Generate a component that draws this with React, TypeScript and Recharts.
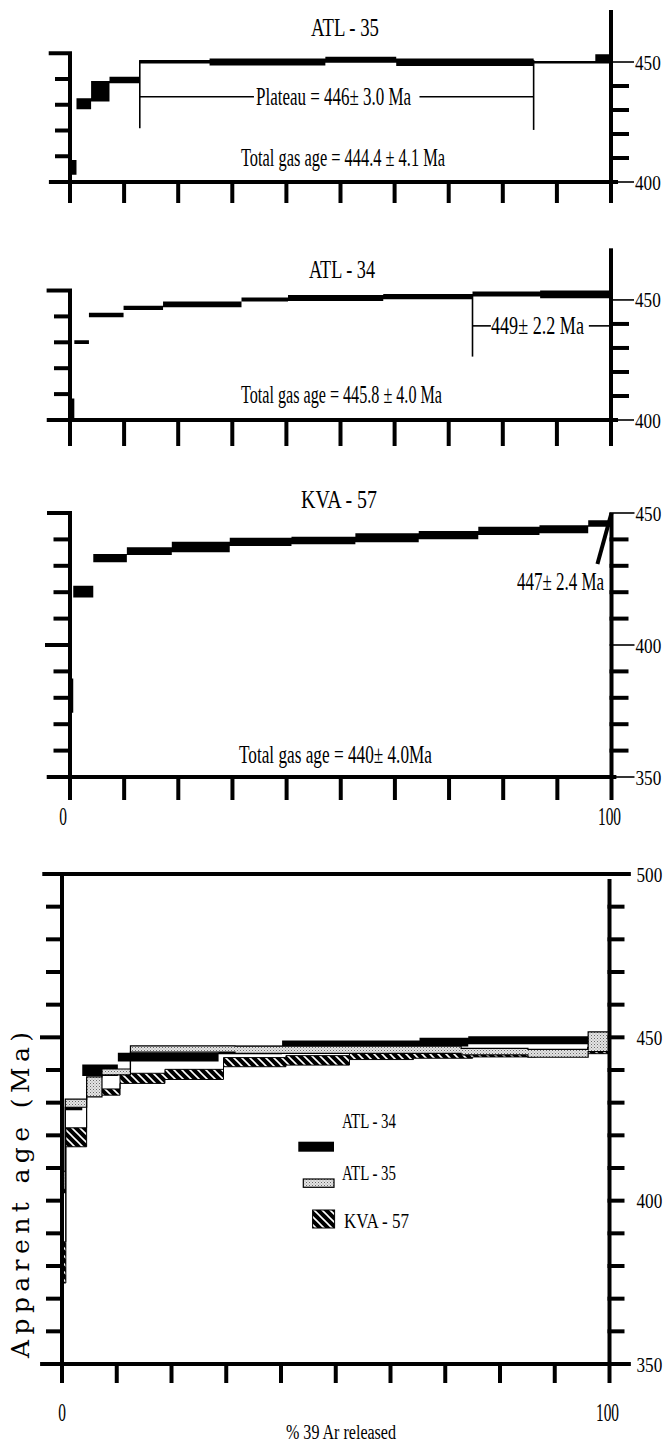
import React from 'react';
import { ComposedChart, Area, XAxis, YAxis, ReferenceLine } from 'recharts';

const SERIF = '"Liberation Serif", "Times New Roman", serif';
const WIDE_SERIF = '"DejaVu Serif", serif';

// ---------- data (age spectra: cumulative % 39Ar edges, step age low / high in Ma) ----------
const xTicks = [0, 10, 20, 30, 40, 50, 60, 70, 80, 90, 100];
const xTickLabels = [0, 100];

// ATL-35 panel
const atl35Edges = [0, 1.2, 3.9, 7.3, 12.9, 25.8, 47.2, 60.3, 85.7, 97.1, 100];
const atl35Low = [403.0, 430.3, 433.5, 441.1, 449.4, 448.5, 449.7, 448.3, 449.4, 449.4];
const atl35High = [409.2, 434.9, 442.1, 443.9, 450.8, 451.5, 452.2, 451.5, 450.4, 453.2];

// ATL-34 panel
const atl34Edges = [0, 0.8, 3.5, 9.9, 17.2, 31.7, 40.3, 57.9, 74.4, 86.9, 100];
const atl34Low = [400.7, 431.7, 442.8, 445.8, 447.0, 449.3, 449.6, 450.3, 451.4, 450.7];
const atl34High = [409.0, 433.2, 444.7, 447.6, 449.3, 451.0, 452.1, 452.5, 453.5, 453.9];

// KVA-57 panel
const kva57Edges = [0, 0.6, 4.3, 10.5, 18.8, 29.5, 40.9, 52.7, 64.4, 75.4, 86.7, 95.7, 100];
const kva57Low = [374.3, 418.0, 431.3, 434.1, 435.1, 437.5, 438.2, 438.9, 440.1, 441.7, 442.3, 444.8];
const kva57High = [387.3, 422.4, 434.5, 437.0, 439.1, 440.6, 441.0, 442.3, 443.2, 444.8, 445.4, 447.3];

// combined panel (as drawn in the lower diagram)
const cAtl34Edges = [0, 0.7, 3.7, 10.2, 28.6, 40.2, 65.3, 74.2, 100];
const cAtl34Low = [402.3, 427.7, 438.2, 442.6, 444.8, 447.1, 447.2, 447.9];
const cAtl34High = [408.5, 430.8, 441.7, 445.3, 447.4, 449.0, 449.9, 450.3];

const cAtl35Edges = [0, 0.6, 4.5, 7.3, 12.5, 31.6, 72.9, 85.1, 96.1, 100];
const cAtl35Low = [403.5, 428.6, 431.8, 438.5, 445.5, 445.1, 444.6, 443.9, 445.6];
const cAtl35High = [409.0, 431.1, 437.9, 440.3, 447.4, 447.3, 446.6, 446.3, 451.7];

const cKva57Edges = [0, 0.7, 4.5, 10.6, 18.8, 29.5, 40.9, 52.5, 64.2, 75.0, 86.6, 96.0, 100];
const cKva57Low = [374.8, 416.5, 432.3, 435.9, 437.1, 441.0, 441.5, 443.2, 443.6, 444.0, 444.2, 445.0];
const cKva57High = [387.4, 422.3, 434.2, 439.0, 440.2, 443.8, 444.4, 445.1, 445.6, 445.6, 446.0, 447.0];

// texts
const sampleTitles = ['ATL - 35', 'ATL - 34', 'KVA - 57'];
const plateauLabels = ['Plateau = 446± 3.0 Ma', '449± 2.2 Ma', '447± 2.4 Ma'];
const totalGasLabels = [
  'Total gas age = 444.4 ± 4.1 Ma',
  'Total gas age = 445.8 ± 4.0 Ma',
  'Total gas age = 440± 4.0Ma',
];
const legendNames = ['ATL - 34', 'ATL - 35', 'KVA - 57'];
const xAxisTitle = '% 39 Ar released';
const yAxisTitle = 'Apparent age (Ma)';

// tick value lists
const rTicks400 = [400, 410, 420, 430, 440, 450];
const rLabels400 = [400, 450];
const rTicks350 = [350, 360, 370, 380, 390, 400, 410, 420, 430, 440, 450];
const rLabels350 = [350, 400, 450];
const rTicks500 = [350, 360, 370, 380, 390, 400, 410, 420, 430, 440, 450, 460, 470, 480, 490, 500];
const rLabels500 = [350, 400, 450, 500];
const lTicksIdx = [0, 1, 2, 3, 4, 5];

// ---------- table builders ----------
type Series = { key: string; edges: number[]; low: number[]; high: number[] };

function buildTable(series: Series[]) {
  const xs = Array.from(new Set(series.flatMap((s) => s.edges))).sort((a, b) => a - b);
  return xs.map((x) => {
    const row: any = { x };
    series.forEach((s) => {
      const i = s.edges.indexOf(x);
      if (i >= 0) {
        const k = Math.min(i, s.low.length - 1);
        row[s.key] = [s.low[k], s.high[k]];
      } else {
        row[s.key] = [null, null];
      }
    });
    return row;
  });
}

const table1 = buildTable([{ key: 'atl35', edges: atl35Edges, low: atl35Low, high: atl35High }]);
const table2 = buildTable([{ key: 'atl34', edges: atl34Edges, low: atl34Low, high: atl34High }]);
const table3 = buildTable([{ key: 'kva57', edges: kva57Edges, low: kva57Low, high: kva57High }]);
const table4 = buildTable([
  { key: 'kva57', edges: cKva57Edges, low: cKva57Low, high: cKva57High },
  { key: 'atl34', edges: cAtl34Edges, low: cAtl34Low, high: cAtl34High },
  { key: 'atl35', edges: cAtl35Edges, low: cAtl35Low, high: cAtl35High },
]);

// ---------- custom ticks ----------
const makeXTick = (len: number, labelDy: number, zeroDx: number) => (p: any) => {
  const v = p.payload.value;
  const show = labelDy > 0 && xTickLabels.includes(v);
  const s = String(v);
  return (
    <g>
      <line x1={p.x} x2={p.x} y1={p.y - 2} y2={p.y + len} stroke="#000" strokeWidth={4} />
      {show && (
        <text
          x={p.x + (v === 0 ? zeroDx : -2)}
          y={p.y + labelDy}
          textAnchor="middle"
          fontFamily={SERIF}
          fontSize={25}
          textLength={s.length * 7.7}
          lengthAdjust="spacingAndGlyphs"
          fill="#000"
        >
          {s}
        </text>
      )}
    </g>
  );
};

const makeRTick = (labels: number[], thinLabeled: boolean, shortLen: number, labelDx: number) => (p: any) => {
  const v = p.payload.value;
  const lab = labels.includes(v);
  const thin = lab && thinLabeled;
  return (
    <g>
      <line
        x1={p.x - 2}
        x2={p.x + (thin ? labelDx - 1 : shortLen)}
        y1={p.y}
        y2={p.y}
        stroke="#000"
        strokeWidth={thin ? 1.6 : 4}
      />
      {lab && (
        <text
          transform={`translate(${p.x + labelDx}, ${p.y + 7.5}) scale(0.78, 1)`}
          x={0}
          y={0}
          fontFamily={SERIF}
          fontSize={22}
          fill="#000"
        >
          {v}
        </text>
      )}
    </g>
  );
};

const makeLTick = (normLen: number, longTicks: Record<number, number>) => (p: any) => {
  const v = p.payload.value;
  const len = longTicks[v] ?? normLen;
  return <line x1={p.x - len} x2={p.x + 2} y1={p.y} y2={p.y} stroke="#000" strokeWidth={4} />;
};

// ---------- panel ----------
type Seg = { a: [number, number]; b: [number, number]; w: number; axis?: string };
type SeriesStyle = { key: string; fill: string; stroke: string; strokeWidth: number };

type PanelProps = {
  top: number;
  height: number;
  plot: { left: number; right: number; top: number; bottom: number }; // page pixels of plot box
  data: any[];
  series: SeriesStyle[];
  rDomain: [number, number];
  rTicks: number[];
  rLabels: number[];
  rThin: boolean;
  rShort: number;
  rLabelDx: number;
  lDomain: [number, number];
  lTicks: number[];
  lNorm: number;
  lLong: Record<number, number>;
  xLen: number;
  xLabelDy: number;
  zeroDx: number;
  segs: Seg[];
};

function Panel(p: PanelProps) {
  // each axis occupies 1px so that recharts draws it
  const margin = {
    top: p.plot.top - p.top,
    bottom: p.top + p.height - p.plot.bottom - 1,
    left: p.plot.left - 1,
    right: 664 - p.plot.right - 1,
  };
  return (
    <div style={{ position: 'absolute', left: 0, top: p.top }}>
      <ComposedChart width={664} height={p.height} margin={margin} data={p.data}>
        <XAxis
          type="number"
          dataKey="x"
          domain={[0, 100]}
          ticks={xTicks}
          interval={0}
          height={1}
          tickSize={0}
          tickMargin={0}
          axisLine={false}
          tickLine={false}
          allowDataOverflow
          tick={makeXTick(p.xLen, p.xLabelDy, p.zeroDx)}
        />
        <YAxis
          yAxisId="r"
          orientation="right"
          type="number"
          domain={p.rDomain}
          ticks={p.rTicks}
          interval={0}
          width={1}
          tickSize={0}
          tickMargin={0}
          axisLine={false}
          tickLine={false}
          allowDataOverflow
          tick={makeRTick(p.rLabels, p.rThin, p.rShort, p.rLabelDx)}
        />
        <YAxis
          yAxisId="l"
          orientation="left"
          type="number"
          domain={p.lDomain}
          ticks={p.lTicks}
          interval={0}
          width={1}
          tickSize={0}
          tickMargin={0}
          axisLine={false}
          tickLine={false}
          allowDataOverflow
          tick={makeLTick(p.lNorm, p.lLong)}
        />
        {p.series.map((s) => (
          <Area
            key={s.key}
            yAxisId="r"
            type="stepAfter"
            dataKey={s.key}
            fill={s.fill}
            fillOpacity={1}
            stroke={s.stroke}
            strokeWidth={s.strokeWidth}
            connectNulls
            dot={false}
            activeDot={false}
            isAnimationActive={false}
          />
        ))}
        {p.segs.map((s, i) => (
          <ReferenceLine
            key={i}
            yAxisId={s.axis ?? 'r'}
            segment={[
              { x: s.a[0], y: s.a[1] },
              { x: s.b[0], y: s.b[1] },
            ]}
            stroke="#000"
            strokeWidth={s.w}
            ifOverflow="visible"
          />
        ))}
      </ComposedChart>
    </div>
  );
}

function CT(props: {
  x: number;
  y: number;
  w: number;
  size?: number;
  family?: string;
  anchor?: 'start' | 'middle' | 'end';
  children: React.ReactNode;
}) {
  return (
    <text
      x={props.x}
      y={props.y}
      fontFamily={props.family ?? SERIF}
      fontSize={props.size ?? 25}
      textAnchor={props.anchor ?? 'start'}
      textLength={props.w}
      lengthAdjust="spacingAndGlyphs"
      fill="#000"
    >
      {props.children}
    </text>
  );
}

export default function App() {
  return (
    <div
      style={{
        position: 'absolute',
        left: 0,
        top: 0,
        width: 664,
        height: 1446,
        background: '#fff',
        overflow: 'hidden',
      }}
    >
      {/* fill patterns (referenced by the charts) */}
      <svg width={0} height={0} style={{ position: 'absolute' }}>
        <defs>
          <pattern id="kvaHatch" patternUnits="userSpaceOnUse" width="8" height="8">
            <rect width="8" height="8" fill="#000" />
            <path d="M0,0 L8,8 M-2,6 L2,10 M6,-2 L10,2" stroke="#fff" strokeWidth="1.6" />
          </pattern>
          <pattern id="atl35Stipple" patternUnits="userSpaceOnUse" width="3" height="3">
            <rect width="3" height="3" fill="#e4e4e4" />
            <rect x="0" y="0" width="1" height="1" fill="#6a6a6a" />
            <rect x="1.5" y="1.5" width="1" height="1" fill="#9a9a9a" />
          </pattern>
        </defs>
      </svg>

      {/* Panel 1: ATL-35 */}
      <Panel
        top={0}
        height={215}
        plot={{ left: 70, right: 611, top: 10, bottom: 182 }}
        data={table1}
        series={[{ key: 'atl35', fill: '#000', stroke: 'none', strokeWidth: 0 }]}
        rDomain={[400, 471.67]}
        rTicks={rTicks400}
        rLabels={rLabels400}
        rThin
        rShort={18}
        rLabelDx={24}
        lDomain={[0, 6.68]}
        lTicks={lTicksIdx}
        lNorm={15}
        lLong={{ 5: 21.3 }}
        xLen={21}
        xLabelDy={0}
        zeroDx={0}
        segs={[
          { a: [-3.9, 400], b: [101.3, 400], w: 4 },
          { a: [100, 400], b: [100, 471.67], w: 4 },
          { a: [0, 0], b: [0, 5], w: 4, axis: 'l' },
          { a: [12.9, 422.4], b: [12.9, 450.8], w: 1.6 },
          { a: [85.7, 421.7], b: [85.7, 450.8], w: 1.6 },
          { a: [12.9, 435.5], b: [34.0, 435.5], w: 1.6 },
          { a: [64.6, 435.5], b: [85.7, 435.5], w: 1.6 },
        ]}
      />

      {/* Panel 2: ATL-34 */}
      <Panel
        top={215}
        height={235}
        plot={{ left: 70, right: 611, top: 248.3, bottom: 420 }}
        data={table2}
        series={[{ key: 'atl34', fill: '#000', stroke: 'none', strokeWidth: 0 }]}
        rDomain={[400, 471.5]}
        rTicks={rTicks400}
        rLabels={rLabels400}
        rThin
        rShort={18}
        rLabelDx={24}
        lDomain={[0, 6.63]}
        lTicks={lTicksIdx}
        lNorm={16}
        lLong={{ 5: 23.4 }}
        xLen={26}
        xLabelDy={0}
        zeroDx={0}
        segs={[
          { a: [-4.3, 400], b: [101.3, 400], w: 4 },
          { a: [100, 400], b: [100, 471.5], w: 4 },
          { a: [0, 0], b: [0, 5], w: 4, axis: 'l' },
          { a: [74.4, 426.4], b: [74.4, 452.1], w: 1.6 },
          { a: [74.4, 439.2], b: [77.8, 439.2], w: 1.6 },
          { a: [95.9, 439.2], b: [100, 439.2], w: 1.6 },
        ]}
      />

      {/* Panel 3: KVA-57 */}
      <Panel
        top={450}
        height={390}
        plot={{ left: 70, right: 611.5, top: 513, bottom: 777 }}
        data={table3}
        series={[{ key: 'kva57', fill: '#000', stroke: 'none', strokeWidth: 0 }]}
        rDomain={[350, 450]}
        rTicks={rTicks350}
        rLabels={rLabels350}
        rThin
        rShort={17}
        rLabelDx={24}
        lDomain={[350, 450]}
        lTicks={rTicks350}
        lNorm={16.5}
        lLong={{ 450: 23, 400: 25 }}
        xLen={23}
        xLabelDy={48}
        zeroDx={-7}
        segs={[
          { a: [-4.3, 350], b: [100.9, 350], w: 4 },
          { a: [0, 350], b: [0, 450.2], w: 4 },
          { a: [100, 350], b: [100, 450], w: 4 },
          { a: [100, 450], b: [97.4, 430.7], w: 4 },
        ]}
      />

      {/* Panel 4: combined */}
      <Panel
        top={840}
        height={606}
        plot={{ left: 62, right: 609.5, top: 874, bottom: 1364 }}
        data={table4}
        series={[
          { key: 'kva57', fill: 'url(#kvaHatch)', stroke: '#000', strokeWidth: 1 },
          { key: 'atl34', fill: '#000', stroke: 'none', strokeWidth: 0 },
          { key: 'atl35', fill: 'url(#atl35Stipple)', stroke: '#000', strokeWidth: 1.2 },
        ]}
        rDomain={[350, 500]}
        rTicks={rTicks500}
        rLabels={rLabels500}
        rThin={false}
        rShort={15}
        rLabelDx={27}
        lDomain={[350, 500]}
        lTicks={rTicks500}
        lNorm={16}
        lLong={{ 450: 22 }}
        xLen={19}
        xLabelDy={56.5}
        zeroDx={0}
        segs={[
          { a: [-3.6, 500], b: [103.9, 500], w: 4 },
          { a: [-4.0, 350], b: [103.9, 350], w: 4 },
          { a: [0, 350], b: [0, 500], w: 4 },
          { a: [100, 350], b: [100, 498.5], w: 4 },
        ]}
      />

      {/* text overlay */}
      <svg
        width={664}
        height={1446}
        style={{ position: 'absolute', left: 0, top: 0, pointerEvents: 'none' }}
      >
        <CT x={311} y={35.5} w={68}>{sampleTitles[0]}</CT>
        <CT x={256} y={105} w={155}>{plateauLabels[0]}</CT>
        <CT x={241} y={166} w={204}>{totalGasLabels[0]}</CT>

        <CT x={309} y={278} w={66}>{sampleTitles[1]}</CT>
        <CT x={491} y={334} w={93}>{plateauLabels[1]}</CT>
        <CT x={241} y={403} w={201}>{totalGasLabels[1]}</CT>

        <CT x={301} y={508} w={76}>{sampleTitles[2]}</CT>
        <CT x={517} y={590} w={87}>{plateauLabels[2]}</CT>
        <CT x={239} y={763} w={193}>{totalGasLabels[2]}</CT>

        {/* legend */}
        <CT x={342} y={1128} w={54} size={22}>{legendNames[0]}</CT>
        <rect x={298.3} y={1141.7} width={35.7} height={10} fill="#000" />
        <CT x={342} y={1180} w={54} size={22}>{legendNames[1]}</CT>
        <rect x={303.3} y={1179} width={30.7} height={8.3} fill="url(#atl35Stipple)" stroke="#000" strokeWidth={1.2} />
        <CT x={344} y={1228} w={65} size={22}>{legendNames[2]}</CT>
        <rect x={312.6} y={1210} width={22} height={18} fill="url(#kvaHatch)" stroke="#000" strokeWidth={1} />

        {/* axis titles */}
        <CT x={286} y={1439} w={110} size={20}>{xAxisTitle}</CT>
        <text
          transform="translate(29,1195) rotate(-90)"
          textAnchor="middle"
          fontFamily={WIDE_SERIF}
          fontSize={25}
          textLength={326}
          lengthAdjust="spacing"
          fill="#000"
        >
          {yAxisTitle}
        </text>
      </svg>
    </div>
  );
}
